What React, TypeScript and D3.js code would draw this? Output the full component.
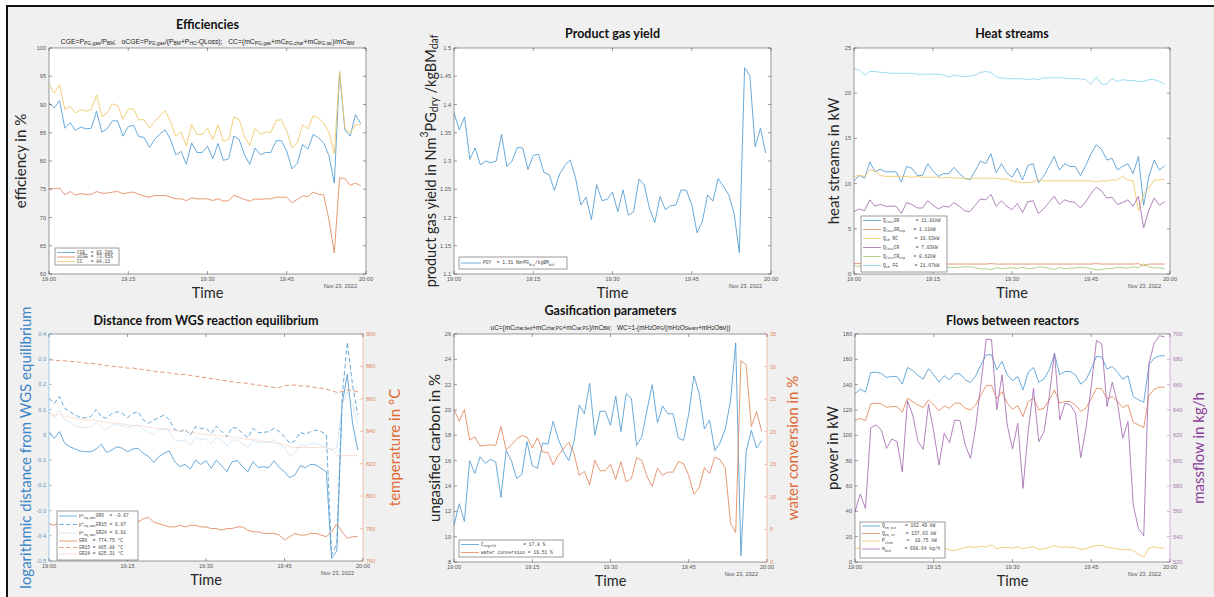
import React from 'react';
import * as d3 from 'd3';

// ---------- time base (one sample per minute, 19:00 .. 19:59) ----------
const T0 = new Date(2022, 10, 23, 19, 0, 0);
const T1 = new Date(2022, 10, 23, 20, 0, 0);
const sampleMinutes = d3.range(60);
const sampleTimes = sampleMinutes.map((m) => new Date(T0.getTime() + m * 60000));
const timeTickMinutes = [0, 15, 30, 45, 60];
const dateLabel = 'Nov 23, 2022';

// ---------- Efficiencies ----------
const cgeValues = [90.3, 89.4, 90.7, 85.8, 86.8, 85.4, 86.0, 85.7, 85.8, 88.8, 85.1, 85.7, 87.1, 87.1, 84.4, 86.1, 86.3, 84.3, 84.2, 82.4, 83.8, 84.8, 85.5, 83.8, 81.1, 81.7, 79.4, 83.2, 81.5, 81.5, 82.6, 80.4, 83.1, 80.1, 80.4, 84.4, 83.8, 81.1, 79.4, 82.3, 81.1, 81.5, 81.5, 83.6, 83.6, 81.7, 78.6, 79.6, 82.9, 82.1, 84.7, 84.1, 83.2, 80.9, 76.1, 95.7, 85.5, 84.4, 88.2, 86.6];
const ocgeValues = [75.1, 75.1, 75.2, 74.0, 74.6, 74.0, 74.2, 74.1, 74.1, 74.6, 74.3, 74.3, 74.5, 74.6, 74.2, 74.4, 74.5, 74.1, 73.8, 73.6, 73.9, 73.9, 73.9, 73.6, 73.3, 73.3, 73.0, 73.5, 73.3, 73.3, 73.3, 73.0, 73.3, 72.9, 73.0, 73.9, 73.6, 73.2, 72.9, 73.3, 73.2, 73.3, 73.3, 73.6, 73.6, 73.6, 72.6, 73.2, 73.8, 73.7, 74.5, 74.1, 74.0, 69.5, 63.7, 77.0, 76.9, 75.7, 76.1, 75.6];
const ccValues = [93.6, 92.0, 93.5, 89.1, 89.7, 88.5, 89.1, 88.8, 89.1, 91.7, 87.9, 88.5, 90.1, 89.8, 87.4, 89.2, 89.2, 87.3, 87.3, 85.8, 87.0, 88.0, 88.9, 87.0, 84.4, 85.1, 82.7, 86.5, 84.7, 84.7, 85.8, 83.8, 86.4, 83.5, 83.8, 87.8, 87.3, 84.4, 82.7, 85.8, 84.7, 85.1, 85.1, 87.2, 87.3, 85.3, 82.3, 83.2, 86.4, 85.7, 88.0, 87.6, 86.7, 85.0, 81.3, 95.9, 85.8, 85.0, 86.4, 86.4];
const effTicks = [60, 65, 70, 75, 80, 85, 90, 95, 100];
const effLegend = ['CGE  = 83.28%', 'oCGE = 73.65%', 'CC   = 84.13'];

// ---------- Product gas yield ----------
const pgyValues = [1.385, 1.355, 1.378, 1.303, 1.323, 1.293, 1.300, 1.297, 1.300, 1.347, 1.290, 1.300, 1.324, 1.323, 1.285, 1.310, 1.312, 1.280, 1.276, 1.248, 1.277, 1.292, 1.302, 1.270, 1.222, 1.236, 1.196, 1.258, 1.230, 1.232, 1.245, 1.210, 1.249, 1.204, 1.210, 1.268, 1.258, 1.216, 1.191, 1.237, 1.214, 1.221, 1.222, 1.249, 1.248, 1.223, 1.173, 1.193, 1.240, 1.229, 1.269, 1.255, 1.240, 1.208, 1.138, 1.465, 1.451, 1.325, 1.358, 1.314];
const pgyTicks = [1.1, 1.15, 1.2, 1.25, 1.3, 1.35, 1.4, 1.45, 1.5];
const pgyLegend = ['PGY  = 1.31 Nm^{3}PG_{dry}/kgBM_{daf}'];

// ---------- Heat streams ----------
const qLossGR = [10.3, 10.9, 10.6, 12.4, 11.3, 11.6, 11.3, 11.3, 11.3, 10.2, 11.9, 11.7, 10.9, 10.9, 12.2, 11.4, 10.8, 11.1, 11.1, 11.8, 11.1, 10.6, 10.4, 11.4, 12.5, 12.2, 13.3, 11.2, 12.2, 11.2, 10.7, 11.7, 10.4, 12.0, 12.2, 10.1, 10.8, 11.9, 13.0, 11.5, 12.2, 11.9, 11.9, 10.9, 12.0, 13.3, 14.3, 13.8, 12.6, 12.8, 11.5, 11.9, 12.2, 11.1, 13.0, 7.6, 10.8, 12.6, 11.5, 12.0];
const qLossGRexp = [1.15, 1.15, 1.15, 1.2, 1.15, 1.15, 1.15, 1.15, 1.15, 1.1, 1.15, 1.15, 1.1, 1.1, 1.15, 1.1, 1.1, 1.1, 1.1, 1.1, 1.1, 1.1, 1.1, 1.1, 1.1, 1.1, 1.15, 1.1, 1.1, 1.1, 1.1, 1.1, 1.1, 1.1, 1.1, 1.1, 1.1, 1.1, 1.1, 1.1, 1.1, 1.1, 1.1, 1.1, 1.1, 1.1, 1.15, 1.1, 1.1, 1.1, 1.1, 1.1, 1.1, 1.1, 1.15, 0.9, 1.1, 1.1, 1.1, 1.1];
const qCRrc = [10.8, 10.9, 10.8, 11.5, 11.4, 10.9, 10.8, 10.8, 10.8, 10.8, 10.8, 10.7, 10.8, 10.7, 10.7, 10.7, 10.7, 10.6, 10.7, 10.6, 10.6, 10.6, 10.5, 10.6, 10.6, 10.6, 10.6, 10.6, 10.5, 10.5, 10.3, 10.2, 10.1, 10.1, 10.2, 10.4, 10.3, 10.3, 10.3, 10.3, 10.3, 10.3, 10.3, 10.3, 10.3, 10.3, 10.2, 10.3, 10.3, 10.4, 10.4, 10.8, 10.4, 10.3, 7.0, 8.8, 9.5, 10.4, 10.4, 10.5];
const qLossCR = [6.9, 7.2, 7.0, 8.2, 7.5, 7.7, 7.5, 7.5, 7.5, 6.7, 7.9, 7.7, 7.3, 7.3, 8.1, 7.6, 7.2, 7.5, 7.4, 7.9, 7.5, 7.0, 6.9, 7.6, 8.3, 8.2, 8.8, 7.5, 8.1, 7.5, 7.1, 7.8, 6.8, 8.0, 8.1, 6.7, 7.2, 7.9, 8.6, 7.7, 8.2, 8.0, 7.9, 7.3, 8.0, 8.9, 9.6, 9.2, 8.4, 8.5, 7.7, 7.9, 8.2, 7.5, 8.6, 5.1, 7.1, 8.4, 7.6, 8.0];
const qLossCRexp = [0.9, 0.85, 0.9, 0.7, 0.8, 0.75, 0.8, 0.8, 0.8, 0.9, 0.7, 0.75, 0.8, 0.8, 0.7, 0.75, 0.8, 0.75, 0.75, 0.7, 0.75, 0.8, 0.8, 0.7, 0.55, 0.6, 0.45, 0.7, 0.6, 0.65, 0.7, 0.6, 0.75, 0.6, 0.6, 0.8, 0.75, 0.65, 0.5, 0.7, 0.6, 0.65, 0.65, 0.75, 0.7, 0.6, 0.45, 0.5, 0.6, 0.6, 0.75, 0.7, 0.65, 0.8, 0.7, 1.1, 0.8, 0.65, 0.7, 0.55];
const qCRfg = [22.7, 22.6, 22.0, 22.4, 22.4, 22.3, 22.3, 22.2, 22.2, 22.2, 22.2, 22.2, 22.1, 22.1, 22.1, 22.1, 22.1, 22.0, 21.8, 22.0, 21.9, 21.8, 21.9, 22.0, 22.3, 22.4, 22.3, 21.8, 21.7, 21.6, 21.6, 21.6, 21.6, 21.5, 21.6, 21.5, 21.7, 21.7, 21.7, 21.7, 21.7, 21.6, 21.6, 21.6, 21.5, 21.0, 21.8, 21.0, 21.0, 21.6, 21.3, 21.5, 21.4, 21.4, 21.3, 21.3, 21.5, 21.5, 21.3, 21.0];
const heatTicks = [0, 5, 10, 15, 20, 25];
const heatLegend = ['Q_{loss}GR      = 11.01kW', 'Q_{loss}GR_{exp}   = 1.11kW', 'Q_{CR} RC      = 10.63kW', 'Q_{loss}CR      = 7.03kW', 'Q_{loss}CR_{exp}   = 0.62kW', 'Q_{CR} FG      = 21.67kW'];

// ---------- Distance from WGS equilibrium ----------
const dGR6 = [0.013, -0.014, 0.013, -0.033, -0.047, -0.056, -0.064, -0.067, -0.067, -0.056, -0.037, -0.07, -0.06, -0.047, -0.053, -0.067, -0.056, -0.053, -0.073, -0.086, -0.109, -0.086, -0.073, -0.064, -0.106, -0.126, -0.117, -0.135, -0.1, -0.117, -0.102, -0.133, -0.1, -0.123, -0.146, -0.106, -0.102, -0.126, -0.146, -0.106, -0.13, -0.126, -0.13, -0.103, -0.129, -0.146, -0.17, -0.159, -0.122, -0.13, -0.117, -0.119, -0.133, -0.146, -0.49, -0.46, 0.12, 0.24, 0.046, -0.06];
const dGR15 = [0.145, 0.125, 0.152, 0.105, 0.092, 0.079, 0.068, 0.068, 0.072, 0.1, 0.072, 0.066, 0.085, 0.092, 0.085, 0.068, 0.085, 0.092, 0.059, 0.046, 0.059, 0.068, 0.079, 0.059, 0.022, 0.013, 0.023, 0.0, 0.033, 0.026, 0.026, 0.006, 0.035, 0.013, -0.007, 0.03, 0.026, 0.006, -0.011, 0.026, 0.009, 0.01, 0.013, 0.026, 0.013, -0.007, -0.033, -0.023, 0.01, 0.002, 0.013, 0.019, 0.013, 0.0, -0.476, -0.43, 0.145, 0.367, 0.198, 0.08];
const dGR24 = [0.09, 0.07, 0.1, 0.06, 0.05, 0.035, 0.03, 0.03, 0.03, 0.05, 0.03, 0.02, 0.04, 0.04, 0.035, 0.03, 0.035, 0.04, 0.02, 0.01, 0.0, 0.02, 0.025, 0.015, -0.02, -0.025, -0.02, -0.04, -0.01, -0.02, -0.015, -0.035, -0.01, -0.02, -0.045, -0.02, -0.02, -0.035, -0.05, -0.02, -0.03, -0.03, -0.03, -0.02, -0.035, -0.05, -0.085, -0.07, -0.04, -0.045, -0.035, -0.035, -0.04, -0.05, -0.06, -0.05, 0.12, 0.17, 0.12, 0.04];
const tGR6 = [783, 782, 784, 782, 781, 781, 780, 780, 781, 782, 781, 782, 783, 784, 783, 782, 783, 784, 786, 787, 784, 783, 782, 781, 781, 782, 781, 782, 782, 781, 781, 780, 780, 779, 780, 780, 781, 781, 779, 778, 778, 777, 777, 777, 776, 773, 775, 777, 776, 776, 777, 777, 776, 775, 778, 783, 778, 774, 775, 775];
const tGR15 = [884, 884, 883.5, 883.5, 883, 883, 882.5, 882, 882, 881.5, 881, 880.5, 880, 880, 879.5, 879, 879, 878.5, 878, 877.5, 877, 876.5, 876.5, 876, 875.5, 875, 875, 874.5, 874, 873.5, 873, 872.5, 872, 871.5, 871, 870.5, 870, 870, 869.5, 869, 868.5, 868, 867.5, 867, 867, 868, 868.5, 868.5, 868, 868, 867.5, 867, 866.5, 866, 865, 864, 864.5, 865.5, 865, 864.5];
const tGR24 = [851, 850, 850.5, 849, 848.5, 848, 847.5, 847, 847, 846.5, 846, 845.5, 845, 845, 844.5, 844, 843.5, 843.5, 843, 842.5, 842, 841.5, 841.5, 841, 840.5, 840, 840, 839.5, 839, 838.5, 838, 838, 837.5, 837, 837, 836.5, 836, 835.5, 835, 835, 834.5, 834, 833.5, 833, 832.5, 831.5, 830.5, 830, 830, 830, 830, 830, 830, 830, 829, 825, 825, 825, 825, 825];
const wgsLeftTicks = [-0.5, -0.4, -0.3, -0.2, -0.1, 0, 0.1, 0.2, 0.3, 0.4];
const wgsRightTicks = [760, 780, 800, 820, 840, 860, 880, 900];
const wgsLegend = ['p^{Δ}_{eq,WGS}GR6  = -0.07', 'p^{Δ}_{eq,WGS}GR15 = 0.07', 'p^{Δ}_{eq,WGS}GR24 = 0.01', 'GR6  = 774.75 °C', 'GR15 = 865.88 °C', 'GR24 = 825.31 °C'];

// ---------- Gasification parameters ----------
const ungasifiedC = [10.9, 12.6, 11.2, 16.0, 15.0, 16.3, 15.8, 16.1, 15.9, 13.1, 16.8, 16.0, 14.6, 14.9, 17.5, 15.6, 15.4, 17.4, 17.3, 19.1, 17.7, 16.7, 16.0, 17.5, 20.4, 19.7, 22.1, 18.0, 19.9, 19.9, 18.8, 21.1, 18.3, 21.3, 20.9, 17.2, 17.9, 20.0, 22.0, 19.0, 20.3, 19.7, 19.7, 17.8, 17.6, 19.7, 22.7, 21.3, 18.5, 19.2, 16.8, 17.4, 18.5, 20.7, 25.3, 8.5, 16.7, 18.4, 17.0, 17.6];
const waterConversion = [23.4, 21.6, 23.4, 18.7, 19.2, 17.8, 17.9, 18.0, 17.9, 20.8, 17.2, 18.0, 18.9, 19.4, 19.2, 17.5, 19.1, 16.9, 16.8, 14.9, 16.4, 17.4, 18.4, 16.7, 13.3, 13.9, 11.8, 15.6, 14.0, 14.0, 15.0, 12.7, 15.4, 12.3, 12.8, 16.0, 15.6, 13.1, 11.6, 14.4, 13.3, 13.8, 13.8, 15.4, 15.1, 13.3, 10.4, 11.4, 14.5, 13.6, 16.1, 15.7, 14.4, 6.0, 4.5, 30.9, 30.3, 20.8, 23.1, 20.0];
const gasLeftTicks = [8, 10, 12, 14, 16, 18, 20, 22, 24, 26];
const gasRightTicks = [0, 5, 10, 15, 20, 25, 30, 35];
const gasLegend = ['C_{ungsfd}          = 17.8 %', 'water conversion = 19.51 %'];

// ---------- Flows between reactors ----------
const qOut = [132.8, 136.5, 134.1, 149.6, 149.9, 148.9, 145.7, 146.5, 146.5, 140.4, 153.6, 151.2, 147.3, 144.4, 152.6, 147.8, 142.0, 147.0, 143.8, 148.6, 148.6, 143.8, 141.7, 147.0, 155.7, 163.6, 163.6, 151.8, 158.4, 147.8, 143.1, 146.5, 135.9, 149.9, 153.6, 142.0, 144.4, 151.8, 164.2, 147.8, 150.4, 150.4, 147.8, 140.4, 143.8, 152.6, 162.3, 161.8, 152.3, 154.4, 149.9, 144.4, 147.0, 130.6, 128.0, 126.2, 155.7, 161.0, 162.8, 162.8];
const qIn = [111.6, 113.5, 111.6, 124.8, 125.4, 124.8, 122.2, 122.7, 122.7, 118.2, 129.3, 126.7, 124.0, 121.9, 128.0, 124.0, 119.3, 123.2, 121.4, 125.4, 125.4, 121.4, 120.1, 124.0, 132.0, 139.4, 139.4, 128.8, 134.6, 125.4, 120.6, 123.5, 114.8, 126.7, 129.3, 120.1, 121.4, 128.0, 135.9, 125.4, 126.7, 126.7, 124.0, 118.8, 121.4, 128.8, 137.2, 136.7, 128.8, 130.6, 126.7, 121.9, 124.0, 110.3, 108.2, 106.1, 131.4, 136.5, 138.0, 138.0];
const pChem = [10.5, 11.0, 10.5, 12.0, 12.0, 11.5, 11.0, 11.5, 11.5, 10.5, 12.0, 11.5, 11.0, 11.0, 12.0, 11.0, 10.5, 11.0, 9.5, 9.0, 10.5, 11.5, 12.0, 11.5, 12.5, 12.0, 13.5, 10.5, 11.5, 11.5, 11.0, 12.0, 10.5, 11.5, 12.0, 10.0, 10.5, 11.5, 13.0, 11.5, 12.0, 11.5, 11.5, 10.0, 10.5, 12.0, 13.0, 13.0, 11.5, 11.0, 10.5, 9.5, 10.0, 9.0, 6.0, 4.0, 11.0, 12.0, 11.0, 11.0];
const mBed = [559.6, 573.6, 562.2, 626.1, 628.2, 624.3, 609.7, 617.1, 615.0, 591.3, 647.2, 636.1, 615.0, 608.9, 644.6, 622.9, 596.5, 621.6, 614.2, 632.2, 631.6, 612.4, 601.8, 626.9, 661.2, 696.0, 695.5, 640.1, 667.8, 628.2, 609.2, 629.5, 578.1, 623.5, 657.2, 615.0, 622.9, 650.6, 685.0, 632.2, 645.4, 644.0, 637.4, 602.3, 625.6, 658.6, 695.0, 692.1, 642.7, 662.0, 645.4, 617.7, 630.9, 564.9, 546.4, 540.6, 677.0, 692.9, 698.7, 697.6];
const flowLeftTicks = [0, 20, 40, 60, 80, 100, 120, 140, 160, 180];
const flowRightTicks = [520, 540, 560, 580, 600, 620, 640, 660, 680, 700];
const flowLegend = ['Q_{CR,out}   = 162.49 kW', 'Q_{CR,in}    = 137.03 kW', 'P_{chem}     =  10.75 kW', 'm_{bed}     = 698.64 kg/h'];

// ---------- style constants ----------
const C = {
  blue: '#4f9bd2', orange: '#e2865c', yellow: '#f0c661', purple: '#a46cb0',
  green: '#a2c86e', cyan: '#8dd3f2', axis: '#3a3a3a', tick: '#555',
  lightBlue: '#b4d3ec', lightOrange: '#f3c4ae',
};
const SANS = 'Lato, "Open Sans", "DejaVu Sans", sans-serif';
const HELV = '"Liberation Sans", Arial, sans-serif';
const MONO = '"Liberation Mono", "DejaVu Sans Mono", monospace';

// TeX-like sub/superscript renderer
function tex(s: string, fs: number) {
  const segs: { t: string; m: number }[] = [];
  let i = 0;
  let cur = '';
  while (i < s.length) {
    const c = s[i];
    if ((c === '_' || c === '^') && i + 1 < s.length) {
      if (cur) { segs.push({ t: cur, m: 0 }); cur = ''; }
      let t = '';
      if (s[i + 1] === '{') {
        const j = s.indexOf('}', i + 2);
        t = s.slice(i + 2, j);
        i = j + 1;
      } else {
        t = s[i + 1];
        i += 2;
      }
      segs.push({ t, m: c === '_' ? -1 : 1 });
    } else {
      cur += c;
      i++;
    }
  }
  if (cur) segs.push({ t: cur, m: 0 });
  let off = 0;
  return segs.map((sg, k) => {
    const target = sg.m === -1 ? fs * 0.3 : sg.m === 1 ? -fs * 0.4 : 0;
    const dy = target - off;
    off = target;
    return (
      <tspan key={k} dy={dy} fontSize={sg.m ? fs * 0.72 : fs}>{sg.t}</tspan>
    );
  });
}

type Box = { l: number; r: number; t: number; b: number };
type AxisCfg = {
  domain: [number, number]; ticks: number[]; color: string; tickColor: string;
  label: string; labelColor: string; labelX: number; labelSize?: number;
};
type SeriesCfg = { values: number[]; color: string; dash?: string; side?: 'L' | 'R'; width?: number };
type LegendCfg = { x: number; y: number; w: number; h: number; rowYs: number[]; labels: string[]; sampleLen?: number };
type PanelCfg = {
  id: string; box: Box; title: string; titleY: number; subtitle?: string; subtitleY?: number; subtitleSize?: number;
  left: AxisCfg; right?: AxisCfg; series: SeriesCfg[]; legend: LegendCfg;
};

const fmtNum = (v: number) => String(+v.toFixed(2));

function Panel({ cfg }: { cfg: PanelCfg }) {
  const { box, left, right } = cfg;
  const x = d3.scaleTime().domain([T0, T1]).range([box.l, box.r]);
  const yL = d3.scaleLinear().domain(left.domain).range([box.b, box.t]);
  const yR = right ? d3.scaleLinear().domain(right.domain).range([box.b, box.t]) : null;
  const tl = 3;
  const xTicks = timeTickMinutes.map((m) => new Date(T0.getTime() + m * 60000));
  const fmtT = d3.timeFormat('%H:%M');
  const cx = (box.l + box.r) / 2;
  const cy = (box.t + box.b) / 2;
  const clipId = 'clip-' + cfg.id;
  const lg = cfg.legend;
  const sampleLen = lg.sampleLen ?? 18;
  return (
    <g>
      <defs>
        <clipPath id={clipId}>
          <rect x={box.l} y={box.t} width={box.r - box.l} height={box.b - box.t} />
        </clipPath>
      </defs>
      <rect x={box.l} y={box.t} width={box.r - box.l} height={box.b - box.t} fill="#fff" />
      {/* series */}
      <g clipPath={`url(#${clipId})`}>
        {cfg.series.map((s, k) => {
          const ys = s.side === 'R' && yR ? yR : yL;
          const line = d3.line<number>().x((_, i) => x(sampleTimes[i])).y((v) => ys(v));
          return (
            <path key={k} d={line(s.values) || ''} fill="none" stroke={s.color}
              strokeWidth={s.width ?? 0.85} strokeDasharray={s.dash} strokeLinejoin="round" />
          );
        })}
      </g>
      {/* box */}
      <line x1={box.l} x2={box.r} y1={box.t} y2={box.t} stroke={C.axis} strokeWidth={0.5} />
      <line x1={box.l} x2={box.r} y1={box.b} y2={box.b} stroke={C.axis} strokeWidth={0.5} />
      <line x1={box.l} x2={box.l} y1={box.t} y2={box.b} stroke={left.color} strokeWidth={0.5} />
      <line x1={box.r} x2={box.r} y1={box.t} y2={box.b} stroke={right ? right.color : C.axis} strokeWidth={0.5} />
      {/* x ticks */}
      {xTicks.map((t, k) => (
        <g key={k}>
          <line x1={x(t)} x2={x(t)} y1={box.b} y2={box.b - tl} stroke={C.axis} strokeWidth={0.5} />
          <line x1={x(t)} x2={x(t)} y1={box.t} y2={box.t + tl} stroke={C.axis} strokeWidth={0.5} />
          <text x={x(t)} y={box.b + 7} textAnchor="middle" fontFamily={HELV} fontSize={5.6} fill={C.tick}>{fmtT(t)}</text>
        </g>
      ))}
      <text x={box.r - 9} y={box.b + 14} textAnchor="end" fontFamily={HELV} fontSize={5.6} fill={C.tick}>{dateLabel}</text>
      <text x={cx} y={box.b + 24} textAnchor="middle" fontFamily={SANS} fontSize={14.5} fill="#262626">Time</text>
      {/* left y ticks */}
      {left.ticks.map((v, k) => (
        <g key={k}>
          <line x1={box.l} x2={box.l + tl} y1={yL(v)} y2={yL(v)} stroke={left.color} strokeWidth={0.5} />
          {!right && <line x1={box.r} x2={box.r - tl} y1={yL(v)} y2={yL(v)} stroke={C.axis} strokeWidth={0.5} />}
          <text x={box.l - 3} y={yL(v) + 2} textAnchor="end" fontFamily={HELV} fontSize={5.6} fill={left.tickColor}>{fmtNum(v)}</text>
        </g>
      ))}
      {right && yR && right.ticks.map((v, k) => (
        <g key={k}>
          <line x1={box.r} x2={box.r - tl} y1={yR(v)} y2={yR(v)} stroke={right.color} strokeWidth={0.5} />
          <text x={box.r + 3} y={yR(v) + 2} textAnchor="start" fontFamily={HELV} fontSize={5.6} fill={right.tickColor}>{fmtNum(v)}</text>
        </g>
      ))}
      {/* y labels */}
      <text transform={`translate(${left.labelX},${cy}) rotate(-90)`} textAnchor="middle" dominantBaseline="central"
        fontFamily={SANS} fontSize={left.labelSize ?? 15} fill={left.labelColor} style={{ whiteSpace: 'pre' }}>
        {tex(left.label, left.labelSize ?? 15)}
      </text>
      {right && (
        <text transform={`translate(${right.labelX},${cy}) rotate(-90)`} textAnchor="middle" dominantBaseline="central"
          fontFamily={SANS} fontSize={right.labelSize ?? 15} fill={right.labelColor}>
          {right.label}
        </text>
      )}
      {/* titles */}
      <text x={cx} y={cfg.titleY} textAnchor="middle" dominantBaseline="central" fontFamily={SANS} fontWeight="bold" fontSize={12.5} fill="#111">{cfg.title}</text>
      {cfg.subtitle && (
        <text x={cx} y={cfg.subtitleY} textAnchor="middle" dominantBaseline="central" fontFamily={HELV} fontSize={cfg.subtitleSize ?? 6} fill="#222" style={{ whiteSpace: 'pre' }}>
          {tex(cfg.subtitle, cfg.subtitleSize ?? 6)}
        </text>
      )}
      {/* legend */}
      <rect x={lg.x} y={lg.y} width={lg.w} height={lg.h} fill="#fff" stroke={C.axis} strokeWidth={0.5} />
      {lg.labels.map((lab, k) => {
        const s = cfg.series[k];
        const ry = lg.rowYs[k];
        return (
          <g key={k}>
            <line x1={lg.x + 2} x2={lg.x + 2 + sampleLen} y1={ry} y2={ry} stroke={s.color} strokeWidth={0.8} strokeDasharray={s.dash} />
            <text x={lg.x + 4 + sampleLen} y={ry + 1.4} fontFamily={MONO} fontSize={4.6} fill="#444" style={{ whiteSpace: 'pre' }}>
              {tex(lab, 4.6)}
            </text>
          </g>
        );
      })}
    </g>
  );
}

const DASH = '4.5,2.5';
const DOT = '1.2,0.8';

const panels: PanelCfg[] = [
  {
    id: 'eff', box: { l: 49, r: 366, t: 48, b: 274 }, title: 'Efficiencies', titleY: 24,
    subtitle: 'CGE=P_{PG,gas}/P_{BM};   oCGE=P_{PG,gas}/(P_{BM}+P_{HC}-QLoss);   CC=(mC_{PG,gas}+mC_{PG,char}+mC_{PG,tar})/mC_{BM}', subtitleY: 41, subtitleSize: 6.8,
    left: { domain: [60, 100], ticks: effTicks, color: C.axis, tickColor: C.tick, label: 'efficiency in %', labelColor: '#262626', labelX: 20 },
    series: [
      { values: cgeValues, color: C.blue },
      { values: ocgeValues, color: C.orange },
      { values: ccValues, color: C.yellow },
    ],
    legend: { x: 55, y: 248, w: 64, h: 17, rowYs: [252.5, 257, 261.5], labels: effLegend },
  },
  {
    id: 'pgy', box: { l: 454, r: 771, t: 48, b: 274 }, title: 'Product gas yield', titleY: 33,
    left: { domain: [1.1, 1.5], ticks: pgyTicks, color: C.axis, tickColor: C.tick, label: 'product gas yield in Nm^{3}PG_{dry} /kgBM_{daf}', labelColor: '#262626', labelX: 430, labelSize: 14.5 },
    series: [{ values: pgyValues, color: C.blue }],
    legend: { x: 459, y: 257, w: 108, h: 12, rowYs: [263], labels: pgyLegend, sampleLen: 20 },
  },
  {
    id: 'heat', box: { l: 854, r: 1170, t: 48, b: 274 }, title: 'Heat streams', titleY: 33,
    left: { domain: [0, 25], ticks: heatTicks, color: C.axis, tickColor: C.tick, label: 'heat streams in kW', labelColor: '#262626', labelX: 833 },
    series: [
      { values: qLossGR, color: C.blue },
      { values: qLossGRexp, color: C.orange },
      { values: qCRrc, color: C.yellow },
      { values: qLossCR, color: C.purple },
      { values: qLossCRexp, color: C.green },
      { values: qCRfg, color: C.cyan },
    ],
    legend: { x: 861, y: 216, w: 86, h: 56, rowYs: [220.5, 229.5, 238.5, 247.5, 256.5, 265.5], labels: heatLegend },
  },
  {
    id: 'wgs', box: { l: 49, r: 363, t: 334, b: 561 }, title: 'Distance from WGS reaction equilibrium', titleY: 320,
    left: { domain: [-0.5, 0.4], ticks: wgsLeftTicks, color: '#4f9bd2', tickColor: '#5a93c4', label: 'logarithmic distance from WGS equilibrium', labelColor: '#3d86c6', labelX: 25 },
    right: { domain: [760, 900], ticks: wgsRightTicks, color: '#e2865c', tickColor: '#e08a64', label: 'temperature in °C', labelColor: '#de6a36', labelX: 394 },
    series: [
      { values: dGR6, color: C.blue },
      { values: dGR15, color: C.blue, dash: DASH },
      { values: dGR24, color: C.lightBlue, dash: DOT },
      { values: tGR6, color: C.orange, side: 'R' },
      { values: tGR15, color: C.orange, side: 'R', dash: DASH },
      { values: tGR24, color: C.lightOrange, side: 'R', dash: DOT },
    ],
    legend: { x: 57, y: 511, w: 81, h: 49, rowYs: [516, 524.5, 533, 541, 547.5, 554], labels: wgsLegend },
  },
  {
    id: 'gas', box: { l: 454, r: 767, t: 334, b: 562 }, title: 'Gasification parameters', titleY: 310,
    subtitle: 'uC=(mC_{char,bed}+mC_{char,PG}+mC_{tar,PG})/mC_{BM};   WC=1-(mH_{2}O_{PG}/(mH_{2}O_{Steam}+mH_{2}O_{BM}))', subtitleY: 326.5, subtitleSize: 6.4,
    left: { domain: [8, 26], ticks: gasLeftTicks, color: C.axis, tickColor: C.tick, label: 'ungasified carbon in %', labelColor: '#262626', labelX: 434 },
    right: { domain: [0, 35], ticks: gasRightTicks, color: '#e2865c', tickColor: '#e08a64', label: 'water conversion in %', labelColor: '#de6a36', labelX: 792 },
    series: [
      { values: ungasifiedC, color: C.blue },
      { values: waterConversion, color: C.orange, side: 'R' },
    ],
    legend: { x: 459, y: 540, w: 104, h: 17, rowYs: [544.5, 552.5], labels: gasLegend },
  },
  {
    id: 'flow', box: { l: 855, r: 1170, t: 334, b: 562 }, title: 'Flows between reactors', titleY: 320,
    left: { domain: [0, 180], ticks: flowLeftTicks, color: C.axis, tickColor: C.tick, label: 'power in kW', labelColor: '#262626', labelX: 832 },
    right: { domain: [520, 700], ticks: flowRightTicks, color: '#a46cb0', tickColor: '#a27aad', label: 'massflow in kg/h', labelColor: '#8a3f99', labelX: 1198 },
    series: [
      { values: qOut, color: C.blue },
      { values: qIn, color: C.orange },
      { values: pChem, color: C.yellow },
      { values: mBed, color: C.purple, side: 'R' },
    ],
    legend: { x: 860, y: 522, w: 85, h: 36, rowYs: [526, 533.5, 541, 549], labels: flowLegend },
  },
];

export default function App() {
  return (
    <svg width={1214} height={597} viewBox="0 0 1214 597"
      style={{ position: 'absolute', left: 0, top: 0, display: 'block' }}>
      <rect x={0} y={0} width={1214} height={597} fill="#ffffff" />
      <rect x={7} y={6} width={1214} height={600} fill="#f0f0f0" />
      <line x1={6} x2={1214} y1={6} y2={6} stroke="#111" strokeWidth={2} />
      <line x1={7} x2={7} y1={5} y2={597} stroke="#111" strokeWidth={2} />
      {panels.map((p) => <Panel key={p.id} cfg={p} />)}
    </svg>
  );
}
